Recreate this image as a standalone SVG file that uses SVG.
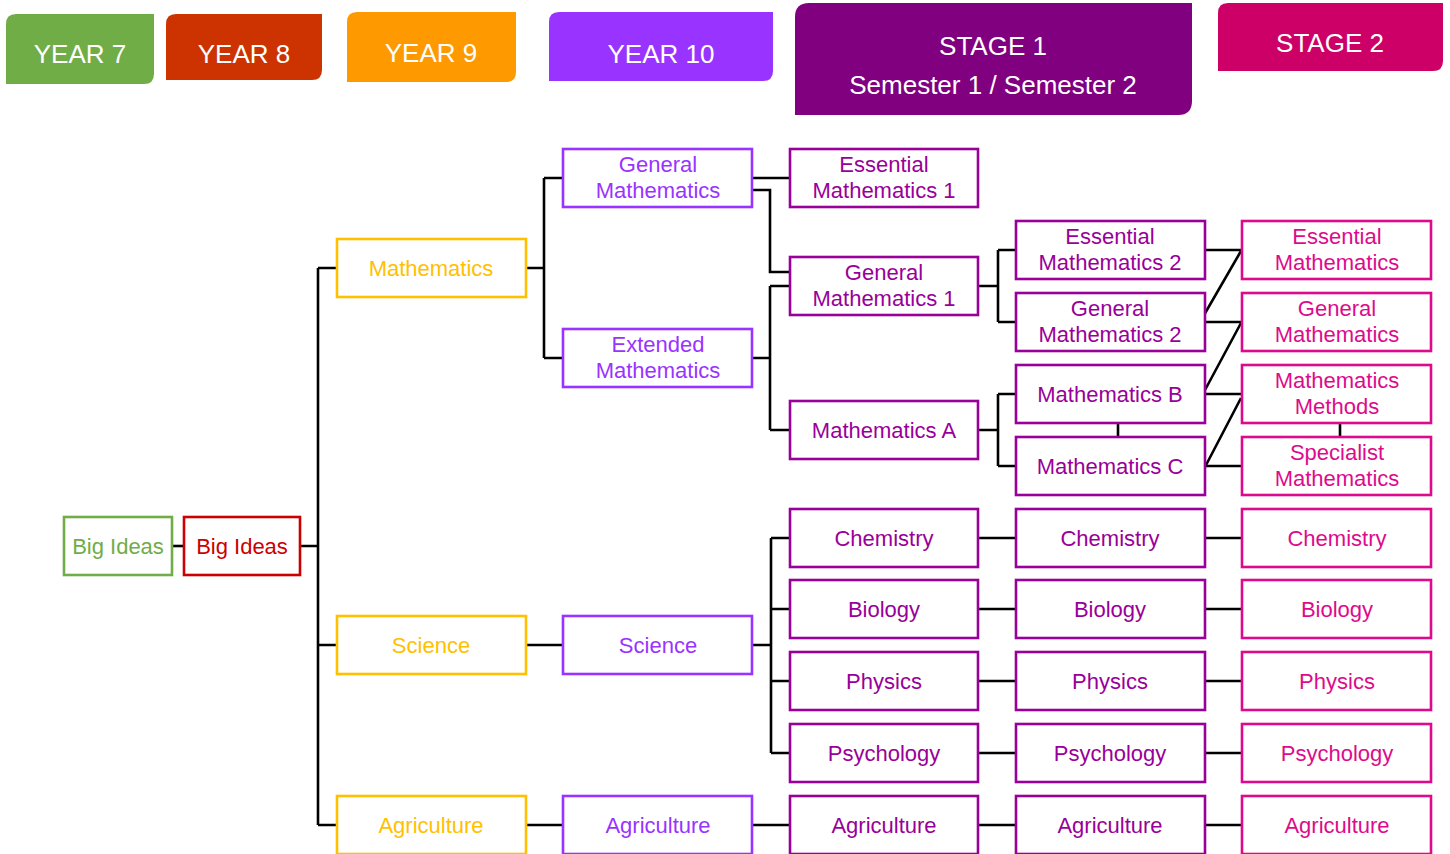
<svg xmlns="http://www.w3.org/2000/svg" width="1450" height="854" viewBox="0 0 1450 854">
<style>
text{font-family:"Liberation Sans",Arial,sans-serif;text-anchor:middle}
.hd{fill:#fff;font-size:26px}
.n{font-size:22px}
.box{fill:#fff;stroke-width:2.6}
.g{stroke:#70AD47}.gt{fill:#70AD47}
.r{stroke:#CC0000}.rt{fill:#CC0000}
.y{stroke:#FFC000}.yt{fill:#FFC000}
.p{stroke:#9933FF}.pt{fill:#9933FF}
.m{stroke:#990099}.mt{fill:#990099}
.k{stroke:#DD0B8C}.kt{fill:#DD0B8C}
#connectors path{fill:none;stroke:#000;stroke-width:2.6}
</style>
<rect width="1450" height="854" fill="#fff"/>
<g id="headers">
<g id="h-y7"><path d="M16,14H154V74Q154,84 144,84H6V24Q6,14 16,14Z" fill="#70AD47"/><text class="hd" x="80" y="63">YEAR 7</text></g>
<g id="h-y8"><path d="M176,14H322V70Q322,80 312,80H166V24Q166,14 176,14Z" fill="#CC3300"/><text class="hd" x="244" y="63">YEAR 8</text></g>
<g id="h-y9"><path d="M357,12H516V72Q516,82 506,82H347V22Q347,12 357,12Z" fill="#FF9900"/><text class="hd" x="431" y="62">YEAR 9</text></g>
<g id="h-y10"><path d="M559,12H773V71Q773,81 763,81H549V22Q549,12 559,12Z" fill="#9933FF"/><text class="hd" x="661" y="63">YEAR 10</text></g>
<g id="h-s1"><path d="M809,3H1192V101Q1192,115 1178,115H795V17Q795,3 809,3Z" fill="#800080"/><text class="hd" x="993" y="55">STAGE 1</text><text class="hd" x="993" y="94">Semester 1 / Semester 2</text></g>
<g id="h-s2"><path d="M1228,3H1443V61Q1443,71 1433,71H1218V13Q1218,3 1228,3Z" fill="#CC0066"/><text class="hd" x="1330" y="52">STAGE 2</text></g>
</g>
<g id="connectors">
<path d="M172,546H184"/>
<path d="M300,546H318M318,268V825M318,268H337M318,645H337M318,825H337"/>
<path d="M526,268H544M544,178V358M544,178H563M544,358H563"/>
<path d="M526,645H563M526,825H563"/>
<path d="M752,178H790"/>
<path d="M752,190H770V272H790" stroke="#333"/>
<path d="M752,358H770M770,286V430M770,286H790M770,430H790"/>
<path d="M752,645H771M771,538V753M771,538H790M771,609H790M771,681H790M771,753H790"/>
<path d="M752,825H790"/>
<path d="M978,286H998M998,250V322M998,250H1016M998,322H1016"/>
<path d="M978,430H998M998,394V466M998,394H1016M998,466H1016"/>
<path d="M1118,423V437M1340,423V437"/>
<path d="M1205,250H1242M1205,322H1242M1205,394H1242M1205,466H1242"/>
<path d="M1204,315L1241,251M1205,390L1241,323M1205,467L1241,398"/>
<path d="M978,538H1016M978,609H1016M978,681H1016M978,753H1016M978,825H1016"/>
<path d="M1205,538H1242M1205,609H1242M1205,681H1242M1205,753H1242M1205,825H1242"/>
</g>
<g id="n-bigideas7"><rect class="box g" x="64" y="517" width="108" height="58"/><text class="n gt" x="118" y="554">Big Ideas</text></g>
<g id="n-bigideas8"><rect class="box r" x="184" y="517" width="116" height="58"/><text class="n rt" x="242" y="554">Big Ideas</text></g>
<g id="n-math9"><rect class="box y" x="337" y="239" width="189" height="58"/><text class="n yt" x="431" y="276">Mathematics</text></g>
<g id="n-sci9"><rect class="box y" x="337" y="616" width="189" height="58"/><text class="n yt" x="431" y="653">Science</text></g>
<g id="n-agri9"><rect class="box y" x="337" y="796" width="189" height="58"/><text class="n yt" x="431" y="833">Agriculture</text></g>
<g id="n-genmath10"><rect class="box p" x="563" y="149" width="189" height="58"/><text class="n pt" x="658" y="172">General</text><text class="n pt" x="658" y="198">Mathematics</text></g>
<g id="n-extmath10"><rect class="box p" x="563" y="329" width="189" height="58"/><text class="n pt" x="658" y="352">Extended</text><text class="n pt" x="658" y="378">Mathematics</text></g>
<g id="n-sci10"><rect class="box p" x="563" y="616" width="189" height="58"/><text class="n pt" x="658" y="653">Science</text></g>
<g id="n-agri10"><rect class="box p" x="563" y="796" width="189" height="58"/><text class="n pt" x="658" y="833">Agriculture</text></g>
<g id="n-ess1"><rect class="box m" x="790" y="149" width="188" height="58"/><text class="n mt" x="884" y="172">Essential</text><text class="n mt" x="884" y="198">Mathematics 1</text></g>
<g id="n-gen1"><rect class="box m" x="790" y="257" width="188" height="58"/><text class="n mt" x="884" y="280">General</text><text class="n mt" x="884" y="306">Mathematics 1</text></g>
<g id="n-matha"><rect class="box m" x="790" y="401" width="188" height="58"/><text class="n mt" x="884" y="438">Mathematics A</text></g>
<g id="n-chem1"><rect class="box m" x="790" y="509" width="188" height="58"/><text class="n mt" x="884" y="546">Chemistry</text></g>
<g id="n-bio1"><rect class="box m" x="790" y="580" width="188" height="58"/><text class="n mt" x="884" y="617">Biology</text></g>
<g id="n-phys1"><rect class="box m" x="790" y="652" width="188" height="58"/><text class="n mt" x="884" y="689">Physics</text></g>
<g id="n-psy1"><rect class="box m" x="790" y="724" width="188" height="58"/><text class="n mt" x="884" y="761">Psychology</text></g>
<g id="n-agri1"><rect class="box m" x="790" y="796" width="188" height="58"/><text class="n mt" x="884" y="833">Agriculture</text></g>
<g id="n-ess2"><rect class="box m" x="1016" y="221" width="189" height="58"/><text class="n mt" x="1110" y="244">Essential</text><text class="n mt" x="1110" y="270">Mathematics 2</text></g>
<g id="n-gen2"><rect class="box m" x="1016" y="293" width="189" height="58"/><text class="n mt" x="1110" y="316">General</text><text class="n mt" x="1110" y="342">Mathematics 2</text></g>
<g id="n-mathb"><rect class="box m" x="1016" y="365" width="189" height="58"/><text class="n mt" x="1110" y="402">Mathematics B</text></g>
<g id="n-mathc"><rect class="box m" x="1016" y="437" width="189" height="58"/><text class="n mt" x="1110" y="474">Mathematics C</text></g>
<g id="n-chem2"><rect class="box m" x="1016" y="509" width="189" height="58"/><text class="n mt" x="1110" y="546">Chemistry</text></g>
<g id="n-bio2"><rect class="box m" x="1016" y="580" width="189" height="58"/><text class="n mt" x="1110" y="617">Biology</text></g>
<g id="n-phys2"><rect class="box m" x="1016" y="652" width="189" height="58"/><text class="n mt" x="1110" y="689">Physics</text></g>
<g id="n-psy2"><rect class="box m" x="1016" y="724" width="189" height="58"/><text class="n mt" x="1110" y="761">Psychology</text></g>
<g id="n-agri2"><rect class="box m" x="1016" y="796" width="189" height="58"/><text class="n mt" x="1110" y="833">Agriculture</text></g>
<g id="n-ess-s2"><rect class="box k" x="1242" y="221" width="189" height="58"/><text class="n kt" x="1337" y="244">Essential</text><text class="n kt" x="1337" y="270">Mathematics</text></g>
<g id="n-gen-s2"><rect class="box k" x="1242" y="293" width="189" height="58"/><text class="n kt" x="1337" y="316">General</text><text class="n kt" x="1337" y="342">Mathematics</text></g>
<g id="n-methods"><rect class="box k" x="1242" y="365" width="189" height="58"/><text class="n kt" x="1337" y="388">Mathematics</text><text class="n kt" x="1337" y="414">Methods</text></g>
<g id="n-spec"><rect class="box k" x="1242" y="437" width="189" height="58"/><text class="n kt" x="1337" y="460">Specialist</text><text class="n kt" x="1337" y="486">Mathematics</text></g>
<g id="n-chem-s2"><rect class="box k" x="1242" y="509" width="189" height="58"/><text class="n kt" x="1337" y="546">Chemistry</text></g>
<g id="n-bio-s2"><rect class="box k" x="1242" y="580" width="189" height="58"/><text class="n kt" x="1337" y="617">Biology</text></g>
<g id="n-phys-s2"><rect class="box k" x="1242" y="652" width="189" height="58"/><text class="n kt" x="1337" y="689">Physics</text></g>
<g id="n-psy-s2"><rect class="box k" x="1242" y="724" width="189" height="58"/><text class="n kt" x="1337" y="761">Psychology</text></g>
<g id="n-agri-s2"><rect class="box k" x="1242" y="796" width="189" height="58"/><text class="n kt" x="1337" y="833">Agriculture</text></g>
</svg>
